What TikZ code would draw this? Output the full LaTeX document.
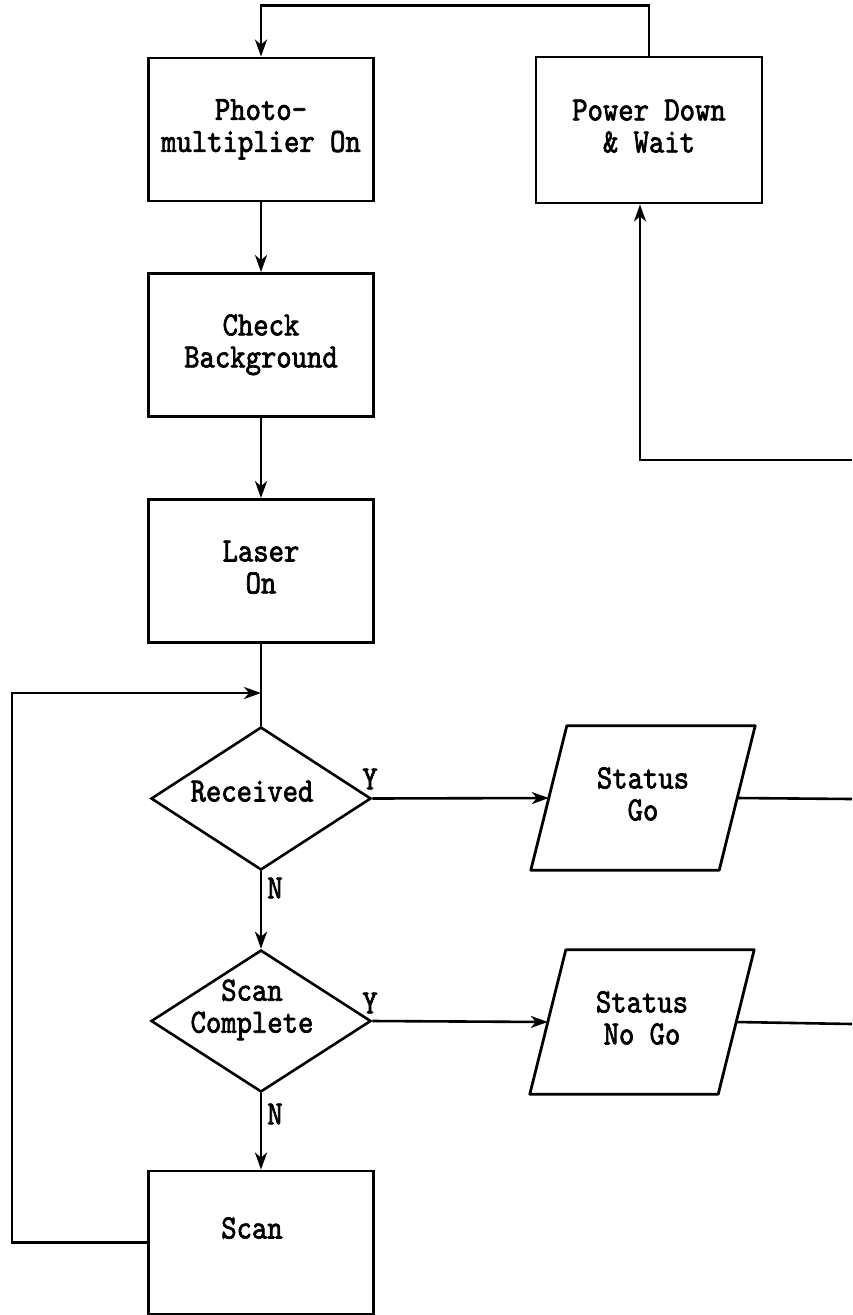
\documentclass[tikz,border=0pt]{standalone}
\usepackage{fontspec}
\newfontfamily\tw[FakeBold=2,FakeStretch=0.86]{lmmono10-regular.otf}
\usetikzlibrary{shapes.geometric,arrows.meta,calc}
\newcommand{\twoline}[2]{\begin{tabular}{@{}c@{}}#1\\#2\end{tabular}}
\newcommand{\zbox}[1]{\smash{\makebox[0pt]{#1}}}
\begin{document}
\begin{tikzpicture}[x=1pt,y=-1pt,
  txt/.style={font=\tw\fontsize{34}{32}\selectfont, align=center, inner sep=0pt},
  box/.style={txt, draw, line width=2.8pt, minimum width=225pt, minimum height=143pt},
  dia/.style={txt, draw, shape=diamond, line width=2.6pt, minimum width=220pt, minimum height=143pt},
  par/.style={txt, minimum width=188pt, minimum height=144pt},
  parline/.style={line width=2.8pt, line join=round},
  line/.style={line width=2.6pt},
  conn/.style={line width=2.6pt, -{Stealth[length=17pt,width=12pt,inset=5pt]}}]
\useasboundingbox (0,0) rectangle (852,1315);
\fill[white] (0,0) rectangle (852,1315);

\node[box] (pm) at (261,129.5) {\raisebox{-4pt}{\twoline{Photo-}{multiplier On}}};
\node[box, minimum width=226pt, minimum height=146pt] (pd) at (649,130) {\raisebox{-4pt}{\twoline{Power Down}{\& Wait}}};
\node[box] (cb) at (261,345) {\twoline{Check}{Background}};
\node[box] (lo) at (261,571) {\twoline{Laser}{On}};
\node[dia] (rc) at (261,798.5) {\zbox{\raisebox{-3pt}{Received}\hspace*{18pt}}};
\node[dia, minimum height=142pt] (sc) at (261,1021) {\zbox{\raisebox{4.5pt}{\twoline{Scan}{Complete}}\hspace*{18pt}}};
\node[box] (sn) at (261,1242.5) {\zbox{\raisebox{4pt}{Scan}\hspace*{18pt}}};

\node[par] (sg) at (643,798) {\raisebox{4pt}{\twoline{Status}{Go}}};
\node[par] (sng) at (642,1022) {\raisebox{4pt}{\twoline{Status}{No Go}}};
\draw[parline] ($(sg.north west)+(18,0)$) -- ($(sg.north east)+(18,0)$) -- ($(sg.south east)+(-18,0)$) -- ($(sg.south west)+(-18,0)$) -- cycle;
\draw[parline] ($(sng.north west)+(18,0)$) -- ($(sng.north east)+(18,0)$) -- ($(sng.south east)+(-18,0)$) -- ($(sng.south west)+(-18,0)$) -- cycle;

\node[txt] (y1) at (370,779) {Y};
\node[txt] (y2) at (370,1003) {Y};
\node[txt] (n1) at (275,888) {N};
\node[txt] (n2) at (275,1114) {N};

\coordinate (fb) at (261,693);
\coordinate (fbl) at (12,693);
\coordinate (pdin) at (640,460);
\coordinate (rt) at (852,460);
\coordinate (e1) at (852,799);
\coordinate (e2) at (852,1024);

\draw[conn] (pd.north) -- ++(0,-50) -| (pm.north);
\draw[conn] (pm.south) -- (cb.north);
\draw[conn] (cb.south) -- (lo.north);
\draw[line] (lo.south) -- (rc.north);
\draw[conn] (rc.south) -- (sc.north);
\draw[conn] (sc.south) -- (sn.north);
\draw[conn] (sn.west) -| (fbl) -- (fb);
\draw[conn] (rc.east) -- (sg.west);
\draw[conn] (sc.east) -- (sng.west);
\draw[line] (sg.east) -- (e1);
\draw[line] (sng.east) -- (e2);
\draw[conn] (rt) -- (pdin) -- (pd.south -| pdin);
\end{tikzpicture}
\end{document}
